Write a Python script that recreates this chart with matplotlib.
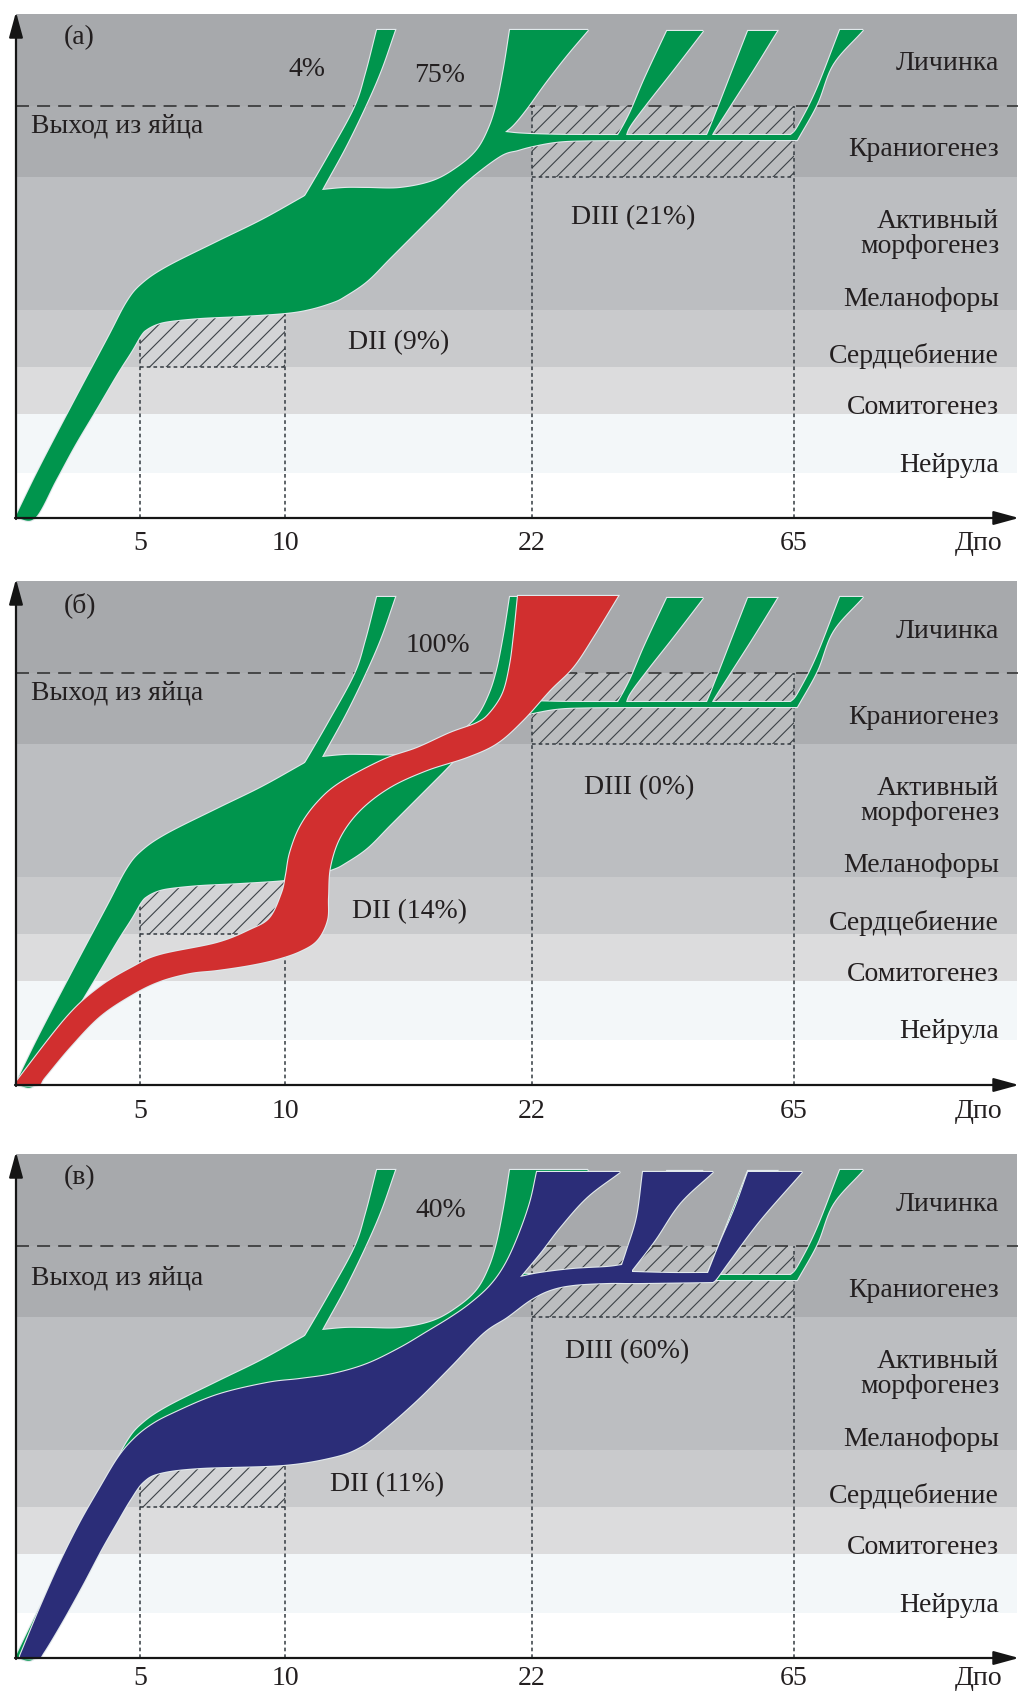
import numpy as np
import matplotlib
matplotlib.use("Agg")
import matplotlib.pyplot as plt
from matplotlib.patches import Polygon, Rectangle

plt.rcParams['font.family'] = ['Liberation Serif', 'DejaVu Serif']
plt.rcParams['hatch.linewidth'] = 0.8

# developmental stages: band edges measured up from the time axis
band_edges = [45, 104, 151, 208, 341, 412, 504]
band_colors = ['#f3f7f9', '#dcdcdd', '#c9cacc', '#bcbec1', '#abadb0', '#a7a9ac']
stage_names = ['Нейрула', 'Сомитогенез', 'Сердцебиение', 'Меланофоры',
               'Активный\nморфогенез', 'Краниогенез', 'Личинка']
stage_label_y = [53, 111, 162, 219, 284, 368, 454]

# time axis (days after fertilisation, schematic scale)
day_ticks = ['5', '10', '22', '65']
tick_x = [140, 285, 532, 794]

panel_tags = ['(а)', '(б)', '(в)']
dii_text = ['DII (9%)', 'DII (14%)', 'DII (11%)']
diii_text = ['DIII (21%)', 'DIII (0%)', 'DIII (60%)']
exit_text = [['4%', '75%'], ['100%'], ['40%']]

# control flow (green) - shared by all three panels
green_trunk_left = [(16, 2), (40, 51), (75, 118), (108, 180), (127, 216), (142, 234),
                    (167, 251), (217, 276), (262, 298), (305, 322)]
green_trunk_top = [(322, 328), (345, 330), (367, 330), (400, 330), (433, 337), (458, 351),
                   (477, 368), (489, 390), (497, 415), (504, 450), (510, 488)]
green_main_cap = [(510, 488), (588, 488)]
green_main_right = [(588, 488), (566, 462), (545, 435), (527, 410), (514, 394), (505, 386)]
green_stem_top = [(505, 386), (520, 384.5), (545, 383.5), (580, 383), (700, 383), (790, 383)]
green_trunk_bottom = [(797, 378), (640, 378), (580, 377.5), (555, 376), (533, 372), (518, 368),
                      (500, 362), (467, 337), (440, 310), (417, 287), (390, 260), (367, 237),
                      (345, 222), (333, 216), (310, 209), (285, 205), (240, 202), (200, 200),
                      (170, 197), (157, 194), (147, 189), (141, 183), (131, 166), (117, 144),
                      (97, 110), (75, 73), (56, 38), (35, 0), (16, 0)]
green_sprig_left = [(300, 316), (305, 322), (330, 365), (355, 411), (366, 445), (377, 488)]
green_sprig_right = [(395, 488), (381, 448), (365, 411), (345, 370), (322, 328), (318, 318)]
green_late1 = [[(614, 380), (618, 383), (630, 405), (645, 440), (667, 487)],
               [(667, 487), (703, 487)],
               [(703, 487), (673, 448), (647, 415), (630, 392), (625, 380)]]
green_late2 = [[(704, 380), (707, 383), (718, 410), (732, 446), (748, 487)],
               [(748, 487), (777, 487)],
               [(777, 487), (753, 448), (730, 412), (713, 385), (712, 380)]]
green_late3 = [[(782, 380), (792, 384), (800, 395), (817, 429), (840, 488)],
               [(840, 488), (863, 488)],
               [(863, 488), (833, 454), (817, 414), (797, 378)]]

# panel (б): red flow
red_left = [(16, 2), (20, 8), (67, 68), (100, 98), (133, 118), (160, 130), (217, 142),
            (250, 155), (270, 167), (282, 192), (286, 210), (290, 232), (300, 258),
            (317, 282), (340, 302), (383, 325), (417, 337), (450, 352), (477, 362),
            (490, 372), (503, 392), (510, 420), (514, 450), (518, 489)]
red_cap = [(518, 489), (618, 489)]
red_right = [(618, 489), (593, 448), (573, 418), (550, 395), (523, 365), (497, 342),
             (467, 328), (427, 315), (390, 298), (360, 275), (340, 248), (330, 218),
             (328, 188), (327, 165), (317, 145), (300, 134), (277, 126), (250, 120),
             (217, 115), (190, 112), (160, 104), (133, 91), (100, 69), (70, 38),
             (45, 8), (38, 0), (16, 0)]

# panel (в): blue flow
blue_left = [(20, 2), (40, 50), (60, 95), (80, 135), (100, 170), (118, 200), (133, 218),
             (150, 232), (172, 244), (217, 263), (267, 275), (300, 279), (333, 284),
             (367, 294), (400, 310), (427, 326), (450, 340), (470, 354), (490, 372),
             (505, 393), (518, 421), (530, 455), (537, 486)]
blue_cap0 = [(537, 486), (620, 486)]
blue_right0 = [(620, 486), (587, 461), (560, 431), (540, 405), (520, 381)]
blue_stem_top1 = [(520, 381), (540, 385), (573, 389), (607, 391), (622, 393)]
blue_b1_left = [(622, 393), (627, 408), (637, 441), (643, 486)]
blue_cap1 = [(643, 486), (713, 486)]
blue_b1_right = [(713, 486), (680, 455), (655, 418), (632, 388)]
blue_stem_top2 = [(632, 386), (670, 385), (708, 385)]
blue_b2_left = [(708, 385), (720, 415), (735, 450), (748, 486)]
blue_cap2 = [(748, 486), (802, 486)]
blue_b2_right = [(802, 486), (760, 438), (730, 398), (717, 380), (713, 376)]
blue_bottom = [(713, 376), (640, 375), (607, 375), (573, 373), (550, 368), (530, 358),
               (507, 341), (483, 325), (450, 291), (417, 258), (383, 228), (360, 211),
               (333, 201), (283, 193), (200, 190), (160, 185), (143, 176), (130, 158),
               (117, 136), (101, 108), (82, 72), (62, 36), (44, 6), (38, 0), (20, 0)]

green_pieces = [
    [green_trunk_left, green_trunk_top, green_main_cap, green_main_right,
     green_stem_top, green_trunk_bottom],
    [green_sprig_left, [(377, 488), (395, 488)], green_sprig_right],
    green_late1, green_late2, green_late3,
]
red_pieces = [[red_left, red_cap, red_right]]
blue_pieces = [[blue_left, blue_cap0, blue_right0, blue_stem_top1, blue_b1_left, blue_cap1,
                blue_b1_right, blue_stem_top2, blue_b2_left, blue_cap2, blue_b2_right,
                blue_bottom]]

FIG_W, FIG_H = 1020, 1692
panel_rows = [(0, 556), (556, 1124), (1124, 1692)]
axis_rows = [518, 1085, 1658]
INK = '#231f20'
FS = 20


def smooth(pts, n=10):
    # Catmull-Rom through the outline points
    p = np.asarray(pts, float)
    if len(p) < 3:
        return p
    ext = np.vstack([2 * p[0] - p[1], p, 2 * p[-1] - p[-2]])
    t = np.linspace(0, 1, n, endpoint=False)[:, None]
    out = []
    for i in range(1, len(ext) - 2):
        p0, p1, p2, p3 = ext[i - 1:i + 3]
        out.append(0.5 * (2 * p1 + (-p0 + p2) * t + (2 * p0 - 5 * p1 + 4 * p2 - p3) * t ** 2
                          + (-p0 + 3 * p1 - 3 * p2 + p3) * t ** 3))
    out.append(p[-1:])
    return np.vstack(out)


def draw_flow(ax, pieces, color, z):
    for edges in pieces:
        pts = np.vstack([smooth(e) for e in edges])
        ax.add_patch(Polygon(pts, closed=True, fc='#e2e9ec', ec='#e2e9ec', lw=1.6, zorder=z - 0.5))
    for edges in pieces:
        pts = np.vstack([smooth(e) for e in edges])
        ax.add_patch(Polygon(pts, closed=True, fc=color, ec='none', zorder=z))


fig = plt.figure(figsize=(FIG_W / 100, FIG_H / 100), dpi=100)

exit_pos = [[(289, 448), (414, 443)], [(406, 440)], [(416, 448)]]
dii_pos = [(348, 175), (352, 173), (330, 173)]
diii_pos = [(571, 300), (584, 297), (565, 306)]
hatch_exit_y = [392, 392, 380]
tick_label_y = [-26, -26, -20]

for i in range(3):
    top, bot = panel_rows[i]
    base = axis_rows[i]
    ax = fig.add_axes([0, 1 - bot / FIG_H, 1, (bot - top) / FIG_H])
    ax.set_xlim(0, FIG_W)
    ax.set_ylim(base - bot, base - top)
    ax.axis('off')

    for lo, hi, c in zip(band_edges[:-1], band_edges[1:], band_colors):
        ax.add_patch(Rectangle((16, lo), 1001, hi - lo, fc=c, ec='none', zorder=1))

    # DII and DIII diapause windows
    windows = [(tick_x[0], tick_x[1], band_edges[2], band_edges[2] + 75),
               (tick_x[2], tick_x[3], band_edges[4], band_edges[5])]
    for x0, x1, y0, y1 in windows:
        ax.add_patch(Rectangle((x0, y0), x1 - x0, y1 - y0, fc='white', alpha=0.2,
                               ec='none', zorder=2))
        ax.add_patch(Rectangle((x0, y0), x1 - x0, y1 - y0, fc='none', ec='#3c4247',
                               lw=0, hatch='//', zorder=2.1))
        ax.plot([x0, x1], [y0, y0], color='#333a40', lw=1.1, ls=(0, (2.4, 2.0)), zorder=3)
    for j, x in enumerate(tick_x):
        ytop = band_edges[2] + 65 if j < 2 else band_edges[5]
        ax.plot([x, x], [0, ytop], color='#333a40', lw=1.1, ls=(0, (2.4, 2.0)), zorder=3)

    ax.plot([16, 1018], [band_edges[5], band_edges[5]], color='#2b2b2b', lw=1.1,
            dashes=(8.5, 5.3), zorder=3)

    draw_flow(ax, green_pieces, '#00954d', 5)
    if i == 1:
        draw_flow(ax, red_pieces, '#d12f2f', 7)
    if i == 2:
        draw_flow(ax, blue_pieces, '#2b2d78', 7)

    # labels
    for name, y in zip(stage_names, stage_label_y):
        ax.text(999, y, name, ha='right', va='center', fontsize=FS, color=INK,
                linespacing=1.05, zorder=9)
    ax.text(64, 480, panel_tags[i], ha='left', va='center', fontsize=FS, color=INK, zorder=9)
    ax.text(31, hatch_exit_y[i], 'Выход из яйца', ha='left', va='center', fontsize=FS,
            color=INK, zorder=9)
    for s, (x, y) in zip(exit_text[i], exit_pos[i]):
        ax.text(x, y, s, ha='left', va='center', fontsize=FS, color=INK, zorder=9)
    ax.text(*dii_pos[i], dii_text[i], ha='left', va='center', fontsize=FS, color=INK, zorder=9)
    ax.text(*diii_pos[i], diii_text[i], ha='left', va='center', fontsize=FS, color=INK, zorder=9)
    for s, x in zip(day_ticks, tick_x):
        ax.text(x, tick_label_y[i], s, ha='center', va='center', fontsize=FS, color=INK,
                zorder=9)
    ax.text(1002, tick_label_y[i], 'Дпо', ha='right', va='center', fontsize=FS, color=INK,
            zorder=9)

    # axes with arrow heads
    arrow = dict(arrowstyle='-|>,head_length=1.1,head_width=0.3', color='#151515', lw=1.6,
                 mutation_scale=14, shrinkA=0, shrinkB=0)
    ax.annotate('', xy=(16, 506), xytext=(16, -1), arrowprops=arrow, zorder=10)
    ax.annotate('', xy=(1019, 0), xytext=(15, 0), arrowprops=arrow, zorder=10)

fig.savefig('out.png', dpi=100)
